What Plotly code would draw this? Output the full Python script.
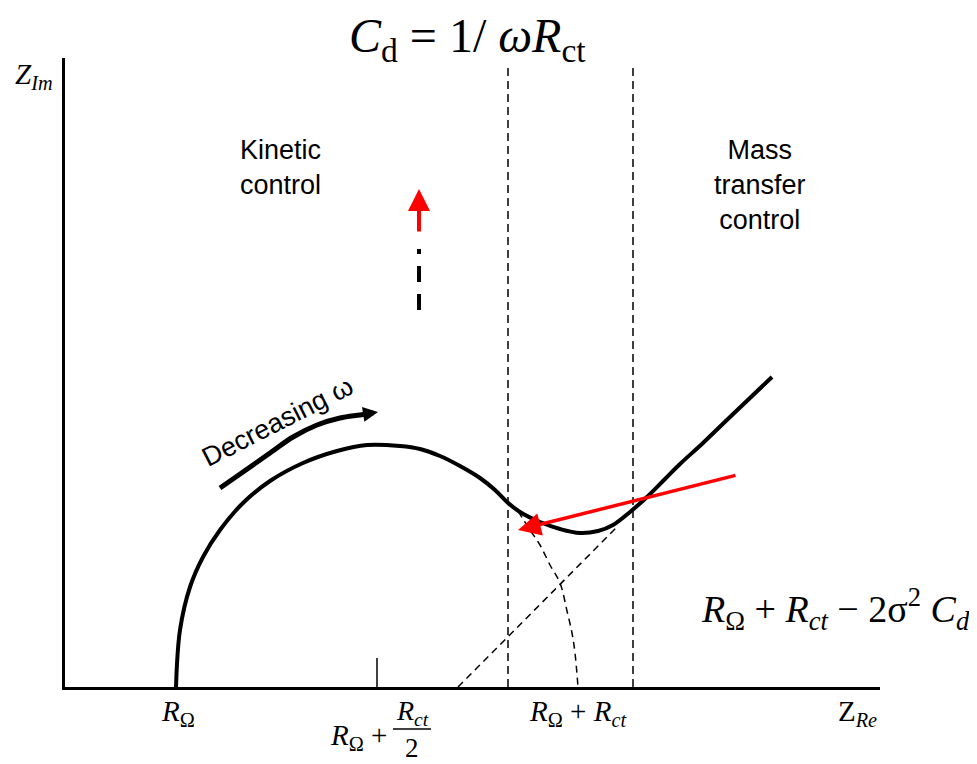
import plotly.graph_objects as go

# ---- data (arbitrary impedance units) ----
curve_x = [11.1, 11.5, 12.5, 13.8, 15.5, 17.8, 20.5, 23.8, 27.2, 30.2, 33.5, 35.5, 37.5, 39.5,
           41.5, 43.0, 44.2, 45.5, 47.5, 49.5, 51.5, 53.3, 54.8, 56.5, 58.2, 60.0, 61.5, 63.8,
           66.5, 70.7]
curve_y = [0.0, 5.7, 10.0, 13.0, 15.7, 18.4, 20.6, 22.4, 23.6, 24.2, 24.1, 23.8, 23.1, 22.1,
           20.9, 19.7, 18.5, 17.5, 16.5, 15.8, 15.4, 15.6, 16.2, 17.5, 19.0, 20.8, 22.3, 24.4,
           27.0, 31.0]

semi_x = [45.3, 46.5, 47.5, 48.5, 49.5, 50.2, 50.7, 51.0, 51.3]
semi_y = [17.6, 15.7, 14.2, 12.2, 10.4, 7.6, 5.4, 3.4, 0.0]

diag_x = [39.3, 55.2]
diag_y = [0.0, 16.0]

boundary_x = [44.3, 56.8]
boundary_top = 61.9

R_ohm = 11.1
R_ct = 40.2
half_point = R_ohm + R_ct / 2

decr_x = [15.5, 17.8, 20.5, 22.8, 25.2, 27.5, 29.5, 30.8]
decr_y = [19.9, 21.5, 23.4, 25.0, 26.2, 26.9, 27.2, 27.4]

red_tail = (67.2, 21.2)
red_tip = (45.3, 15.7)

up_x = 35.4
up_tail, up_tip = 45.4, 49.8
dash_segs = [(43.8, 43.3), (42.1, 40.5), (39.3, 37.7)]

x_range = [0, 81.5]
y_range = [0, 62.9]


def px(x):
    return (x - x_range[0]) / (x_range[1] - x_range[0])


def py(y):
    return (y - y_range[0]) / (y_range[1] - y_range[0])


fig = go.Figure()

# main impedance curve
fig.add_trace(go.Scatter(x=curve_x, y=curve_y, mode="lines",
                         line=dict(color="black", width=4, shape="spline", smoothing=1.0),
                         hoverinfo="skip"))
# dashed semicircle continuation
fig.add_trace(go.Scatter(x=semi_x, y=semi_y, mode="lines",
                         line=dict(color="black", width=1.5, dash="7px,5px", shape="spline"),
                         hoverinfo="skip"))
# dashed Warburg extrapolation
fig.add_trace(go.Scatter(x=diag_x, y=diag_y, mode="lines",
                         line=dict(color="black", width=1.5, dash="7px,5px"), hoverinfo="skip"))
# vertical boundaries
for bx in boundary_x:
    fig.add_trace(go.Scatter(x=[bx, bx], y=[0, boundary_top], mode="lines",
                             line=dict(color="black", width=1.5, dash="8px,5px"), hoverinfo="skip"))
# tick at R_ohm + R_ct/2
fig.add_trace(go.Scatter(x=[half_point, half_point], y=[0, 2.9], mode="lines",
                         line=dict(color="black", width=1.5), hoverinfo="skip"))
# decreasing omega arrow body
fig.add_trace(go.Scatter(x=decr_x, y=decr_y, mode="lines",
                         line=dict(color="black", width=5, shape="spline"), hoverinfo="skip"))
# black dashes below red up arrow
dx, dy = [], []
for a, b in dash_segs:
    dx += [up_x, up_x, None]
    dy += [a, b, None]
fig.add_trace(go.Scatter(x=dx, y=dy, mode="lines", line=dict(color="black", width=4),
                         hoverinfo="skip"))

ann = []
# arrowheads
ann.append(dict(x=decr_x[-1] + 0.5, y=decr_y[-1] + 0.1, ax=decr_x[-3], ay=decr_y[-3],
                xref="x", yref="y", axref="x", ayref="y", showarrow=True, text="",
                arrowhead=2, arrowsize=1.2, arrowwidth=2.5, arrowcolor="black"))
ann.append(dict(x=red_tip[0], y=red_tip[1], ax=red_tail[0], ay=red_tail[1],
                xref="x", yref="y", axref="x", ayref="y", showarrow=True, text="",
                arrowhead=2, arrowsize=1.3, arrowwidth=3.5, arrowcolor="red"))
ann.append(dict(x=up_x, y=up_tip, ax=up_x, ay=up_tail,
                xref="x", yref="y", axref="x", ayref="y", showarrow=True, text="",
                arrowhead=2, arrowsize=1.1, arrowwidth=4, arrowcolor="red"))

times = "Liberation Serif, Times New Roman, serif"
sans = "Liberation Sans, Arial, sans-serif"


def txt(x, y, t, size, fam, angle=0):
    ann.append(dict(x=px(x), y=py(y), xref="paper", yref="paper", text=t, showarrow=False,
                    font=dict(size=size, family=fam, color="black"),
                    textangle=angle, align="center", xanchor="center", yanchor="middle"))


txt(40.2, 64.8, "<i>C</i><sub>d</sub> = 1/ <i>ωR</i><sub>ct</sub>", 48, times)
txt(-3.1, 61.1, "<i>Z</i><sub><i>Im</i></sub>", 29, times)
txt(79.2, -2.6, "Z<sub><i>Re</i></sub>", 29, times)
txt(11.3, -2.6, "<i>R</i><sub>Ω</sub>", 29, times)
txt(51.3, -2.6, "<i>R</i><sub>Ω</sub> + <i>R<sub>ct</sub></i>", 29, times)
txt(29.3, -5.0, "<i>R</i><sub>Ω</sub> +", 29, times)
txt(34.7, -2.5, "<i>R<sub>ct</sub></i>", 28, times)
txt(34.7, -6.1, "2", 27, times)
txt(77.0, 7.8, "<i>R</i><sub>Ω</sub> + <i>R<sub>ct</sub></i> − 2σ<sup>2</sup> <i>C<sub>d</sub></i>", 38, times)
txt(21.5, 52.0, "Kinetic<br>control", 27, sans)
txt(69.5, 50.2, "Mass<br>transfer<br>control", 27, sans)
txt(21.2, 26.5, "Decreasing ω", 27, sans, angle=-27)

shapes = [dict(type="line", xref="paper", yref="paper", x0=px(32.8), x1=px(36.6),
               y0=py(-4.2), y1=py(-4.2), line=dict(color="black", width=1.5))]

fig.update_layout(
    width=969, height=756,
    margin=dict(l=57, r=97, t=50, b=77),
    paper_bgcolor="white", plot_bgcolor="white",
    showlegend=False,
    annotations=ann,
    shapes=shapes,
    xaxis=dict(range=x_range, showgrid=False, zeroline=False, showticklabels=False, ticks="",
               showline=True, linecolor="black", linewidth=2.5, fixedrange=True),
    yaxis=dict(range=y_range, showgrid=False, zeroline=False, showticklabels=False, ticks="",
               showline=True, linecolor="black", linewidth=2.5, fixedrange=True),
)

fig.write_html("out.html")
